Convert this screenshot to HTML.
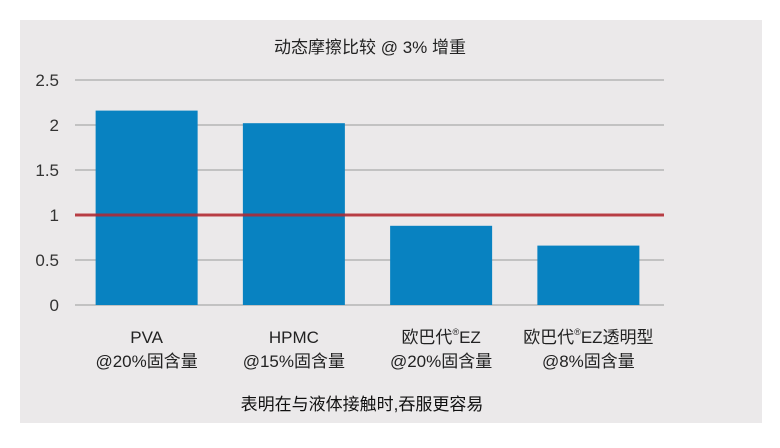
<!DOCTYPE html>
<html><head><meta charset="utf-8">
<style>
body{margin:0;background:#fff;width:780px;height:443px;overflow:hidden}
svg text{font-family:"Liberation Sans","Noto Sans CJK SC",sans-serif;}
</style></head>
<body>
<svg id="chart" width="780" height="443" xmlns="http://www.w3.org/2000/svg">
<rect x="20" y="20" width="742" height="403" fill="#ebe9ea"/>
<text x="370" y="53" font-size="17" text-anchor="middle" fill="#222">动态摩擦比较 @ 3% 增重</text>
<g id="grid"></g>
<g id="bars"></g>
<g id="ref"></g>
<g id="labels"></g>
<text x="362" y="410" font-size="17" text-anchor="middle" fill="#111">表明在与液体接触时,吞服更容易</text>
</svg>
<script>
const categories = [["PVA","@20%固含量"],["HPMC","@15%固含量"],["欧巴代®EZ","@20%固含量"],["欧巴代®EZ透明型","@8%固含量"]];
const values = [2.16, 2.02, 0.88, 0.66];
const ticks = [0, 0.5, 1, 1.5, 2, 2.5];
const tickLabels = ["0","0.5","1","1.5","2","2.5"];
const refValue = 1;
const NS="http://www.w3.org/2000/svg";
const x0=75, x1=664, y0=305, pxPerUnit=90;
const y = v => y0 - v*pxPerUnit;
const band = (x1-x0)/categories.length;
const xc = i => x0 + band*(i+0.5) - 2;
function mk(tag, attrs, parent){const e=document.createElementNS(NS,tag);for(const k in attrs)e.setAttribute(k,attrs[k]);parent.appendChild(e);return e;}
const grid=document.getElementById('grid');
ticks.forEach((t,i)=>{
  const l=mk('line',{x1:x0,x2:x1,y1:y(t),y2:y(t),stroke:'#9a9a9a','stroke-width':1},grid);
  
  
  const tx=mk('text',{x:59,y:y(t)+6,'font-size':17,'text-anchor':'end',fill:'#333'},grid);
  tx.textContent=tickLabels[i];
  
  
});
const bars=document.getElementById('bars');
values.forEach((v,i)=>{
  const r=mk('rect',{x:xc(i)-51,y:y(v),width:102,height:y0-y(v),fill:'#0882c1'},bars);
  
  
});
const ref=mk('line',{x1:x0,x2:x1,y1:y(refValue),y2:y(refValue),stroke:'#b5262e','stroke-width':3,'stroke-opacity':0.85},document.getElementById('ref'));


const labels=document.getElementById('labels');
categories.forEach((c,i)=>{
  c.forEach((s,j)=>{
    const t=mk('text',{x:xc(i),y:343+j*24,'font-size':17,'text-anchor':'middle',fill:'#222'},labels);
    const parts=s.split('®');
    parts.forEach((p,k)=>{
      if(k>0){const sup=mk('tspan',{'font-size':9,dy:-8},t);sup.textContent='®';const after=mk('tspan',{dy:8},t);after.textContent=p;}
      else{const sp=mk('tspan',{},t);sp.textContent=p;}
    });
    
    
  });
});
</script>
</body></html>
